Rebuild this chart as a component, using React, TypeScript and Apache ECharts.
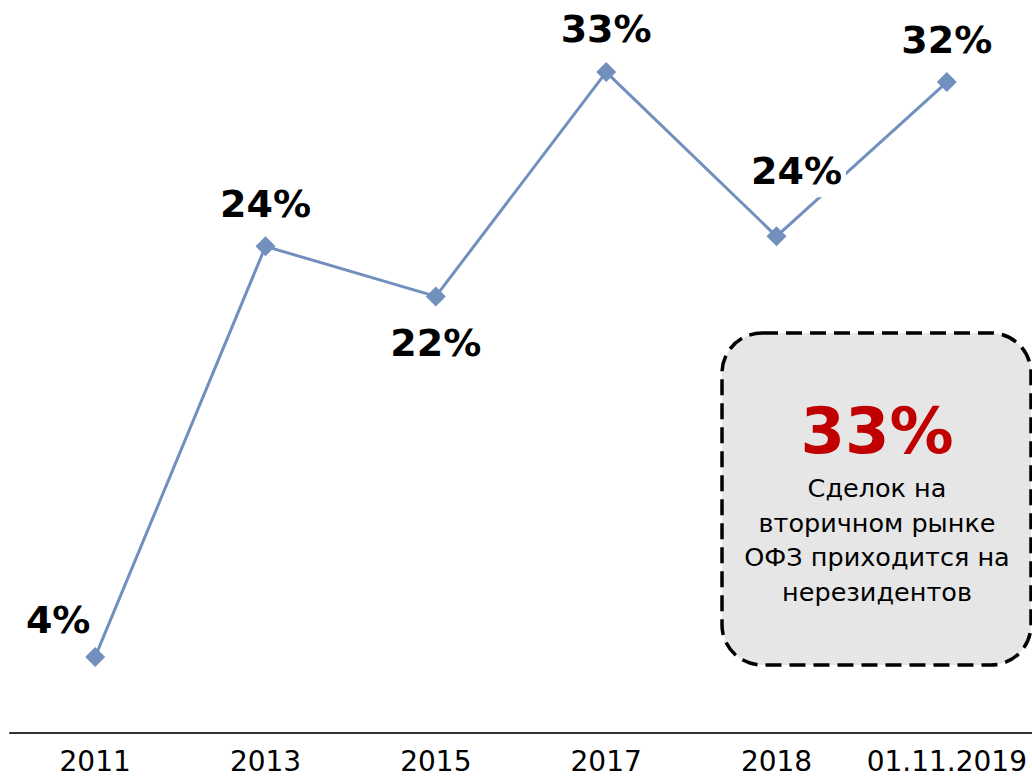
import React, { useEffect, useRef } from "react";
import * as echarts from "echarts";

const categories = ["2011", "2013", "2015", "2017", "2018", "01.11.2019"];
const shareValues = [3.8, 24.3, 21.8, 33, 24.8, 32.5];
const shareLabels = ["4%", "24%", "22%", "33%", "24%", "32%"];
const calloutValue = "33%";
const calloutLines = ["Сделок на", "вторичном рынке", "ОФЗ приходится на", "нерезидентов"];

// label placement (layout only)
const labelOffsets = [
  [-37, -37],
  [0, -42],
  [0, 47],
  [0, -43],
  [20, -65],
  [0, -42],
];

const FONT = '"DejaVu Sans", Verdana, sans-serif';

export default function App() {
  const ref = useRef<HTMLDivElement>(null);

  useEffect(() => {
    document.body.style.margin = "0";
    if (!ref.current) return;
    const chart = echarts.init(ref.current, undefined, { renderer: "svg" });

    const data = shareValues.map((v, i) => ({
      value: v,
      label: {
        offset: labelOffsets[i],
        formatter: () => shareLabels[i],
        ...(i === 4 ? { backgroundColor: "#ffffff", padding: [6, 4, 8, 4] } : {}),
      },
    }));

    chart.setOption({
      animation: false,
      backgroundColor: "#ffffff",
      grid: { left: 10, right: -1, top: 0, bottom: 45, containLabel: false },
      xAxis: {
        type: "category",
        data: categories,
        boundaryGap: true,
        axisLine: { show: true, lineStyle: { color: "#333333", width: 2 } },
        axisTick: { show: false },
        axisLabel: {
          color: "#000000",
          fontFamily: FONT,
          fontSize: 28,
          margin: 14,
          interval: 0,
        },
        splitLine: { show: false },
      },
      yAxis: {
        type: "value",
        min: 0,
        max: 36.6,
        show: false,
        splitLine: { show: false },
      },
      series: [
        {
          type: "line",
          data,
          symbol: "diamond",
          symbolSize: 20,
          lineStyle: { color: "#7190bd", width: 3 },
          itemStyle: { color: "#7190bd" },
          label: {
            show: true,
            position: "inside",
            align: "center",
            verticalAlign: "middle",
            color: "#000000",
            fontFamily: FONT,
            fontWeight: "bold",
            fontSize: 38,
          },
        },
      ],
      graphic: [
        {
          type: "rect",
          shape: { x: 722, y: 333, width: 309, height: 332, r: 40 },
          style: {
            fill: "#e6e6e6",
            stroke: "#000000",
            lineWidth: 3.5,
            lineDash: [16, 8],
          },
        },
        {
          type: "text",
          x: 877,
          y: 431,
          style: {
            text: calloutValue,
            fill: "#c00000",
            fontFamily: FONT,
            fontWeight: "bold",
            fontSize: 64,
            align: "center",
            verticalAlign: "middle",
            textAlign: "center",
            textVerticalAlign: "middle",
          },
        },
        {
          type: "text",
          x: 877,
          y: 540,
          style: {
            text: calloutLines.join("\n"),
            fill: "#000000",
            fontFamily: FONT,
            fontSize: 25.5,
            lineHeight: 34.7,
            align: "center",
            verticalAlign: "middle",
            textAlign: "center",
            textVerticalAlign: "middle",
          },
        },
      ],
    });

    return () => chart.dispose();
  }, []);

  return <div ref={ref} style={{ width: 1032, height: 778 }} />;
}
